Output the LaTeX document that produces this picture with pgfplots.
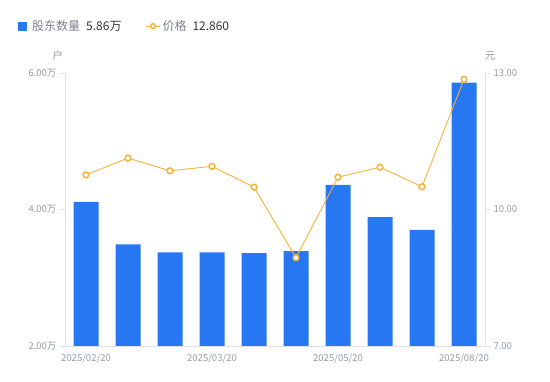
\documentclass[border=0pt]{standalone}
\usepackage{pgfplots}
\pgfplotsset{compat=1.18}
\usepackage{fontspec}
\setmainfont{Noto Sans CJK SC}
\definecolor{barblue}{HTML}{2776F2}
\definecolor{lineorange}{HTML}{F7B23B}
\definecolor{tickgrey}{HTML}{9699AB}
\definecolor{axisgrey}{HTML}{E0E1E6}
\definecolor{txtgrey}{HTML}{7E818E}
\definecolor{txtdark}{HTML}{333333}
\begin{document}
\begin{tikzpicture}
\useasboundingbox (0,0) rectangle (550pt,381pt);
\begin{axis}[
  at={(65pt,35pt)}, anchor=south west,
  scale only axis, width=420pt, height=273pt,
  xmin=-0.5, xmax=9.5, ymin=2, ymax=6,
  ybar, bar width=25pt,
  axis x line*=bottom, axis y line*=left,
  axis line style={draw=axisgrey, line width=0.8pt, -},
  xtick={0,3,6,9},
  xticklabels={2025/02/20,2025/03/20,2025/05/20,2025/08/20},
  xtick style={draw=none},
  ytick={2,4,6},
  yticklabels={2.00万,4.00万,6.00万},
  ytick style={draw=axisgrey, line width=0.8pt},
  tick align=outside, major tick length=5pt,
  ticklabel style={font=\fontsize{9.5}{11}\selectfont, text=tickgrey},
  xticklabel style={yshift=1pt},
  /pgf/number format/assume math mode=true,
  ylabel={户},
  ylabel style={at={(axis description cs:-0.017,1.035)}, anchor=south, rotate=-90, font=\fontsize{10.5}{12}\selectfont, text=tickgrey},
  clip=false,
]
\addplot[fill=barblue, draw=none] coordinates {
 (0,4.11) (1,3.49) (2,3.37) (3,3.37) (4,3.36) (5,3.39) (6,4.36) (7,3.89) (8,3.70) (9,5.86)
};
\end{axis}
\begin{axis}[
  at={(65pt,35pt)}, anchor=south west,
  scale only axis, width=420pt, height=273pt,
  xmin=-0.5, xmax=9.5, ymin=7, ymax=13,
  axis x line=none, axis y line*=right,
  axis line style={draw=axisgrey, line width=0.8pt, -},
  ytick={7,10,13},
  yticklabels={7.00,10.00,13.00},
  ytick style={draw=axisgrey, line width=0.8pt},
  tick align=outside, major tick length=5pt,
  ticklabel style={font=\fontsize{9.5}{11}\selectfont, text=tickgrey},
  /pgf/number format/assume math mode=true,
  ylabel={元},
  ylabel style={at={(axis description cs:1.012,1.035)}, anchor=south, rotate=-90, font=\fontsize{10.5}{12}\selectfont, text=tickgrey},
  clip=false,
  legend style={at={(axis description cs:-0.12,1.172)}, anchor=west, draw=none, fill=none,
    font=\fontsize{12}{14}\selectfont, legend columns=-1,
    /tikz/every even column/.append style={column sep=22pt}},
]
\addlegendimage{legend image code/.code={\fill[barblue] (0pt,-4pt) rectangle (8pt,4pt);}}
\addlegendentry{\hspace{4pt}{\color{txtgrey}股东数量}\hspace{6pt}{\color{txtdark}5.86万}}
\addlegendimage{legend image code/.code={\draw[lineorange, line width=1pt] (0pt,0pt) -- (14pt,0pt); \draw[lineorange, line width=1.4pt, fill=white] (7pt,0pt) circle (2.4pt);}}
\addlegendentry{{\color{txtgrey}价格}\hspace{6pt}{\color{txtdark}12.860}}
\addplot[lineorange, line width=0.9pt, mark=*, mark size=2.9pt, mark options={fill=white, draw=lineorange, line width=1.5pt}] coordinates {
 (0,10.76) (1,11.13) (2,10.85) (3,10.95) (4,10.49) (5,8.94) (6,10.71) (7,10.93) (8,10.50) (9,12.86)
};
\end{axis}
\end{tikzpicture}
\end{document}
